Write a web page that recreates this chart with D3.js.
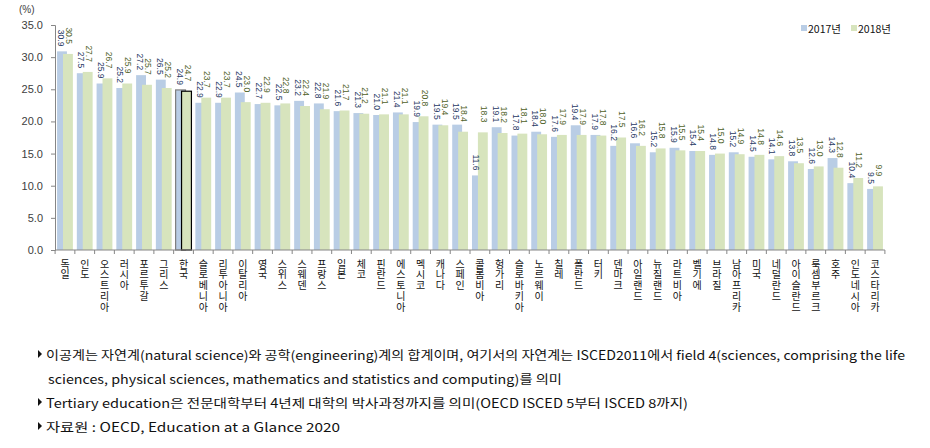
<!DOCTYPE html>
<html>
<head>
<meta charset="utf-8">
<script src="https://cdn.jsdelivr.net/npm/d3@7"></script>
<style>
  html, body { margin: 0; padding: 0; background: #fff; }
  svg { display: block; }
</style>
</head>
<body>
<svg id="chart" width="930" height="448"></svg>
<script>
const countries = ["독일","인도","오스트리아","러시아","포르투갈","그리스","한국","슬로베니아","리투아니아","이탈리아","영국","스위스","스웨덴","프랑스","일본","체코","핀란드","에스토니아","멕시코","캐나다","스페인","콜롬비아","헝가리","슬로바키아","노르웨이","칠레","폴란드","터키","덴마크","아일랜드","뉴질랜드","라트비아","벨기에","브라질","남아프리카","미국","네덜란드","아이슬란드","룩셈부르크","호주","인도네시아","코스타리카"];
const values2017 = [30.9,27.5,25.9,25.2,27.2,26.5,24.9,22.9,22.9,24.5,22.7,22.5,23.2,22.8,21.6,21.3,21.0,21.4,19.9,19.5,19.5,11.6,19.1,17.8,18.4,17.6,19.4,17.9,16.2,16.6,15.2,15.9,15.4,14.8,15.2,14.5,14.1,13.8,12.6,14.3,10.4,9.5];
const values2018 = [30.5,27.7,26.7,25.9,25.7,25.2,24.7,23.7,23.7,23.0,22.9,22.8,22.4,21.9,21.7,21.2,21.1,21.1,20.8,19.4,18.4,18.3,18.2,18.1,18.0,17.9,17.9,17.8,17.5,16.2,15.8,15.5,15.4,15.0,14.9,14.8,14.6,13.5,13.0,12.8,11.2,9.9];
const seriesNames = ["2017년","2018년"];
const yTicks = [0,5,10,15,20,25,30,35];
const unitLabel = "(%)";
const highlight = "한국";
const notes = [
  "이공계는 자연계(natural science)와 공학(engineering)계의 합계이며, 여기서의 자연계는 ISCED2011에서 field 4(sciences, comprising the life",
  "sciences, physical sciences, mathematics and statistics and computing)를 의미",
  "Tertiary education은 전문대학부터 4년제 대학의 박사과정까지를 의미(OECD ISCED 5부터 ISCED 8까지)",
  "자료원 : OECD, Education at a Glance 2020"
];

const svg = d3.select("#chart");
svg.append("rect").attr("width",930).attr("height",448).attr("fill","#fff");

const colors = ["#b9cde5","#d7e4bd"];
const labelColors = ["#1f3864","#4f6228"];
const axisColor = "#868686";
const latin = "'Liberation Sans', Arial, sans-serif";
const kr = "'Noto Sans CJK KR', sans-serif";

const x = d3.scaleBand().domain(countries).range([55.1, 884.9]).padding(0);
const y = d3.scaleLinear().domain([0,35]).range([250,25]);
const bw = x.bandwidth();

// Y axis
const yAxis = svg.append("g").attr("transform","translate(55,0)")
  .call(d3.axisLeft(y).tickValues(yTicks).tickFormat(d3.format(".1f")).tickSize(4).tickPadding(8));
yAxis.select(".domain").attr("stroke", axisColor);
yAxis.selectAll(".tick line").attr("stroke", axisColor);
yAxis.selectAll(".tick text").attr("fill","#404040").style("font-family", latin).style("font-size","11px");

svg.append("text").attr("x",19).attr("y",13).text(unitLabel)
  .style("font-family", latin).style("font-size","10px").attr("fill","#404040");

// bars
const series = [values2017, values2018];
const offsets = [0.1, 0.4];
series.forEach((vals, si) => {
  svg.append("g").selectAll("rect").data(countries).join("rect")
    .attr("x", d => x(d) + offsets[si]*bw)
    .attr("width", 0.5*bw)
    .attr("y", (d,i) => y(vals[i]))
    .attr("height", (d,i) => y(0) - y(vals[i]))
    .attr("fill", colors[si])
    .attr("stroke", d => d === highlight ? (si === 0 ? "#7f7f7f" : "#000") : "none")
    .attr("stroke-width", 1.2);
});

// data labels
const gaps = [5, 10];
const labelOffsets = [0.31, 0.71];
series.forEach((vals, si) => {
  svg.append("g").selectAll("text").data(countries).join("text")
    .attr("transform", (d,i) => `translate(${x(d) + labelOffsets[si]*bw},${y(vals[i]) - gaps[si]}) rotate(90)`)
    .attr("text-anchor","end")
    .attr("dominant-baseline","central")
    .attr("fill", labelColors[si])
    .style("font-family", latin).style("font-size","8.5px")
    .text((d,i) => vals[i].toFixed(1));
});

// X axis
const xAxisG = svg.append("g");
xAxisG.append("line").attr("x1",55.1).attr("x2",884.9).attr("y1",250).attr("y2",250).attr("stroke",axisColor);
const bounds = countries.map(c => x(c)).concat([x(countries[countries.length-1]) + bw]);
xAxisG.selectAll("line.tk").data(bounds).join("line").attr("class","tk")
  .attr("x1", d => d).attr("x2", d => d).attr("y1",250).attr("y2",254).attr("stroke",axisColor);

const xl = svg.append("g");
countries.forEach(c => {
  const chars = Array.from(c);
  chars.forEach((ch, k) => {
    xl.append("text").attr("x", x(c) + bw/2).attr("y", 263 + k*10.8)
      .attr("text-anchor","middle").attr("dominant-baseline","central")
      .style("font-family", kr).style("font-size","10px").attr("fill","#111")
      .text(ch);
  });
});

// legend
const legendItems = [{x:801, tx:808}, {x:851, tx:858}];
seriesNames.forEach((n, i) => {
  svg.append("rect").attr("x", legendItems[i].x).attr("y", 25).attr("width",6).attr("height",6).attr("fill", colors[i]);
  svg.append("text").attr("x", legendItems[i].tx).attr("y", 28.5).attr("dominant-baseline","central")
    .style("font-family", kr).style("font-size","10.5px").attr("fill","#111").text(n);
});

// notes
const noteY = [354, 378, 402, 426];
const noteX = [46, 48, 46, 46];
const noteW = [859, 514, 642, 294];
const bullets = [true, false, true, true];
notes.forEach((t, i) => {
  if (bullets[i]) {
    svg.append("path")
      .attr("d", `M38,${noteY[i]-4} L42,${noteY[i]} L38,${noteY[i]+4} Z`).attr("fill","#111");
  }
  svg.append("text").attr("x", noteX[i]).attr("y", noteY[i]).attr("dominant-baseline","central")
    .attr("textLength", noteW[i]).attr("lengthAdjust","spacingAndGlyphs")
    .style("font-family", kr).style("font-size","12.5px").attr("fill","#111").text(t);
});
</script>
</body>
</html>
